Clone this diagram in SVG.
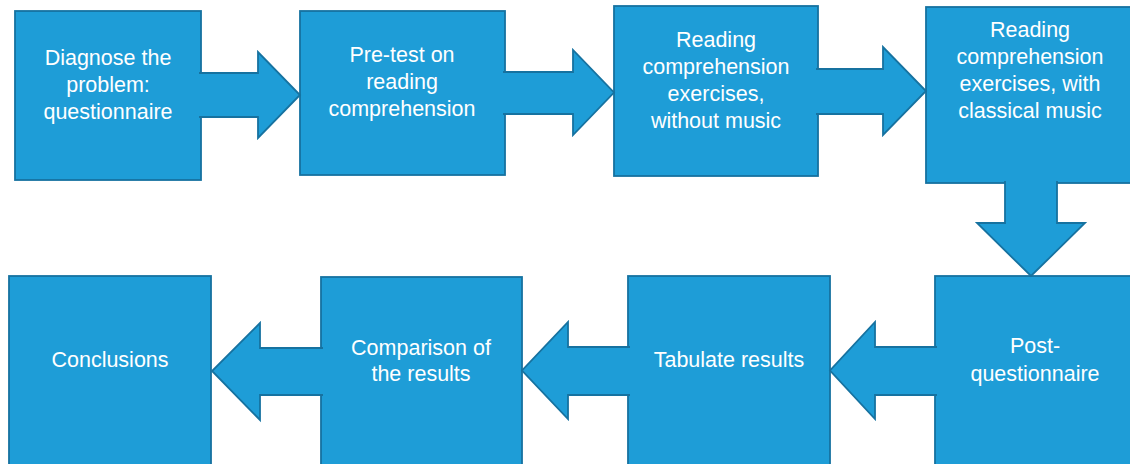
<svg xmlns="http://www.w3.org/2000/svg" width="1130" height="464" viewBox="0 0 1130 464">
<style>
.box{fill:#1E9DD7;stroke:#1672A0;stroke-width:1.8}
.arr{fill:#1E9DD7;stroke:#1672A0;stroke-width:1.8;stroke-linejoin:miter}
text{font-family:"Liberation Sans",Arial,sans-serif;font-size:21.5px;fill:#FFFFFF;text-anchor:middle}
</style>
<rect width="1130" height="464" fill="#FFFFFF"/>
<g id="n1"><rect class="box" x="15" y="11" width="186" height="169"/>
<text x="108" y="65">Diagnose the</text><text x="108" y="92">problem:</text><text x="108" y="119">questionnaire</text></g>
<g id="n2"><rect class="box" x="300" y="11" width="205" height="164"/>
<text x="402" y="62">Pre-test on</text><text x="402" y="89">reading</text><text x="402" y="116">comprehension</text></g>
<g id="n3"><rect class="box" x="614" y="6" width="204" height="170"/>
<text x="716" y="47">Reading</text><text x="716" y="74">comprehension</text><text x="716" y="101">exercises,</text><text x="716" y="128">without music</text></g>
<g id="n4"><rect class="box" x="926" y="7" width="210" height="176"/>
<text x="1030" y="37">Reading</text><text x="1030" y="64">comprehension</text><text x="1030" y="91">exercises, with</text><text x="1030" y="118">classical music</text></g>
<g id="n5"><rect class="box" x="935" y="276" width="200" height="195"/>
<text x="1035" y="353">Post-</text><text x="1035" y="381">questionnaire</text></g>
<g id="n6"><rect class="box" x="628" y="276" width="202" height="195"/>
<text x="729" y="367">Tabulate results</text></g>
<g id="n7"><rect class="box" x="321" y="277" width="201" height="194"/>
<text x="421" y="355">Comparison of</text><text x="421" y="381">the results</text></g>
<g id="n8"><rect class="box" x="9" y="276" width="202" height="195"/>
<text x="110" y="367">Conclusions</text></g>
<g id="connectors">
<path class="arr" d="M199 73 H258 V52 L300 95 L258 138 V117 H199"/>
<path class="arr" d="M503 72 H573 V50 L614 92.5 L573 135 V114 H503"/>
<path class="arr" d="M816 69 H883 V47 L926 91 L883 135 V114 H816"/>
<path class="arr" d="M1005 181 V223 H977 L1031 276 L1085 223 H1057 V181"/>
<path class="arr" d="M937 347 H875 V322 L830 370.5 L875 419 V395 H937"/>
<path class="arr" d="M630 347 H568 V322 L522 370.5 L568 419 V395 H630"/>
<path class="arr" d="M323 348 H260 V323 L212 371 L260 420 V395 H323"/>
</g>
</svg>
